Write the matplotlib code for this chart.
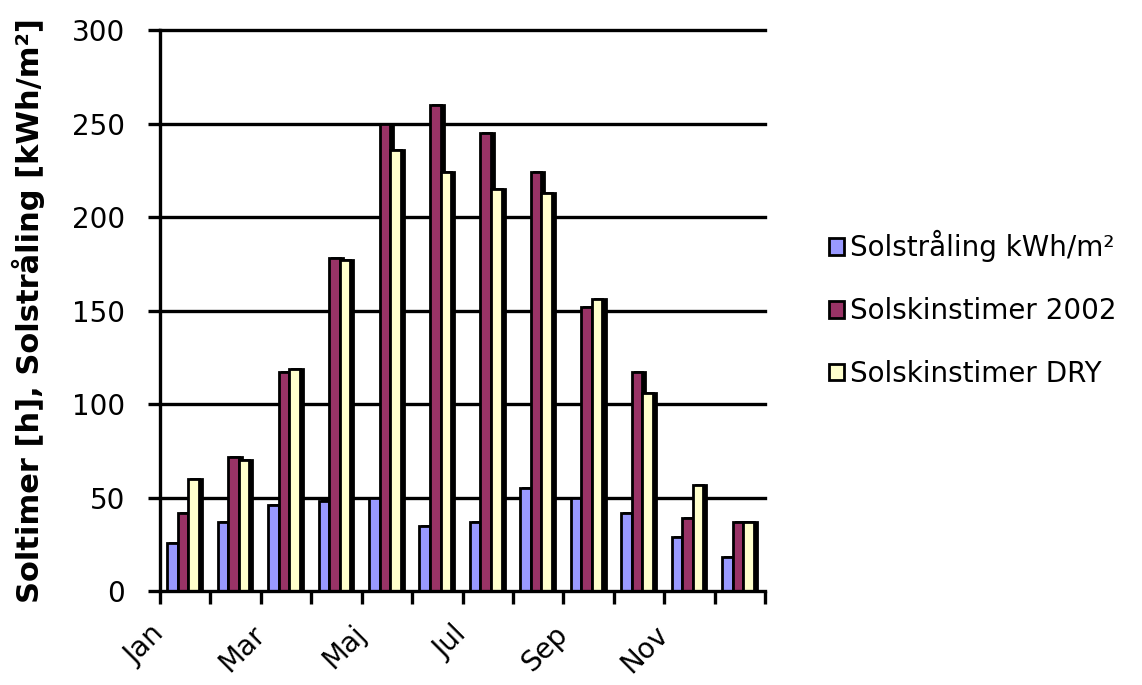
import matplotlib
matplotlib.use("Agg")
import matplotlib.pyplot as plt
from matplotlib.patches import Patch
import numpy as np

months = ["Jan", "Feb", "Mar", "Apr", "Maj", "Jun", "Jul", "Aug", "Sep", "Okt", "Nov", "Dec"]
shown_month_labels = ["Jan", "", "Mar", "", "Maj", "", "Jul", "", "Sep", "", "Nov", "", ""]

solstraaling = [26, 37, 46, 48, 50, 35, 37, 55, 50, 42, 29, 18]
solskin_2002 = [42, 72, 117, 178, 250, 260, 245, 224, 152, 117, 39, 37]
solskin_dry = [60, 70, 119, 177, 236, 224, 215, 213, 156, 106, 57, 37]

series_names = ["Solstråling kWh/m²", "Solskinstimer 2002", "Solskinstimer DRY"]
series_colors = ["#9999FF", "#993366", "#FFFFCC"]

plt.rcParams["font.family"] = ["DejaVu Sans"]

fig = plt.figure(figsize=(11.42, 6.85), dpi=100)
ax = fig.add_axes([0.140, 0.137, 0.530, 0.819])

x = np.arange(len(months))
width = 0.21
offsets = [-0.25, -0.04, 0.17]
for k, (vals, col) in enumerate(zip([solstraaling, solskin_2002, solskin_dry], series_colors)):
    # dark side shading to the right of each bar
    ax.bar(x + offsets[k] + 0.06, vals, width=width, color="black",
           edgecolor="black", linewidth=2.0, zorder=3 + 2 * k)
    ax.bar(x + offsets[k], vals, width=width, color=col,
           edgecolor="black", linewidth=2.0, zorder=4 + 2 * k)

ax.set_xlim(-0.5, 11.5)
ax.set_ylim(0, 300)

yticks = np.arange(0, 301, 50)
ax.set_yticks(yticks)
ax.set_yticklabels([str(v) for v in yticks], fontsize=20)
for v in yticks[1:]:
    ax.axhline(v, color="black", linewidth=2.4, zorder=1, clip_on=False)

boundaries = np.arange(-0.5, 12.0, 1.0)
ax.set_xticks(boundaries)
ax.set_xticklabels(shown_month_labels, fontsize=20, rotation=45,
                   ha="right", va="center", rotation_mode="anchor")

ax.tick_params(axis="both", direction="out", length=9, width=2.4, color="black")
ax.tick_params(axis="y", pad=16)
ax.tick_params(axis="x", pad=19)

for side in ["top", "right"]:
    ax.spines[side].set_visible(False)
for side in ["left", "bottom"]:
    ax.spines[side].set_linewidth(2.4)
    ax.spines[side].set_zorder(10)

ax.set_ylabel("Soltimer [h], Solstråling [kWh/m²]", fontsize=22, fontweight="bold")
ax.yaxis.set_label_coords(-0.19, 0.5)

handles = [Patch(facecolor=c, edgecolor="black", linewidth=2.0) for c in series_colors]
fig.legend(handles, series_names, loc="center left", bbox_to_anchor=(0.716, 0.549),
           frameon=False, fontsize=20, handlelength=0.55, handleheight=0.55,
           handletextpad=0.2, labelspacing=1.25, borderaxespad=0)

fig.savefig("out.png", dpi=100, facecolor="white")
